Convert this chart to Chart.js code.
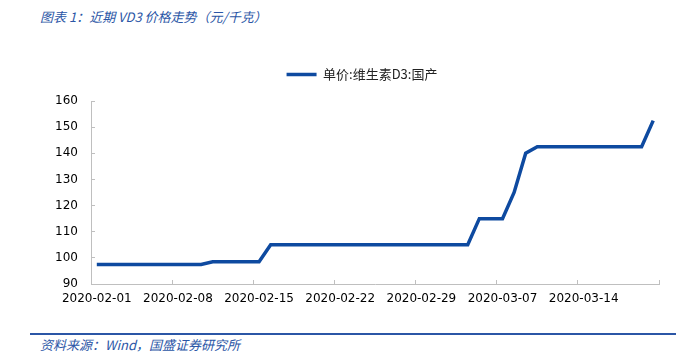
<!DOCTYPE html>
<html>
<head>
<meta charset="utf-8">
<title>近期 VD3 价格走势</title>
<script src="https://cdn.jsdelivr.net/npm/chart.js@4.4.0/dist/chart.umd.min.js"></script>
<style>
  body { margin: 0; background: #fff; }
  #page { position: relative; width: 681px; height: 361px; overflow: hidden; }
  .note {
    position: absolute; left: 40px;
    font-family: "Noto Sans CJK SC", sans-serif; font-style: italic;
    font-size: 13px; color: #2b56a6; white-space: nowrap;
  }
  #title { top: 7px; }
  #rule { position: absolute; left: 30px; width: 646px; top: 333px; border-top: 2px solid #2b56a6; }
  #source { top: 335px; }
  #box { position: absolute; left: 0; top: 50px; width: 681px; height: 268px; }
</style>
</head>
<body>
<div id="page">
  <div id="title" class="note">图表 1：近期 VD3 价格走势（元/千克）</div>
  <div id="box"><canvas id="myCanvas"></canvas></div>
  <div id="rule"></div>
  <div id="source" class="note">资料来源：Wind，国盛证券研究所</div>
</div>

<script>
// daily dates, 2020-02-01 .. 2020-03-20
var dates = [
  '2020-02-01','2020-02-02','2020-02-03','2020-02-04','2020-02-05','2020-02-06','2020-02-07',
  '2020-02-08','2020-02-09','2020-02-10','2020-02-11','2020-02-12','2020-02-13','2020-02-14',
  '2020-02-15','2020-02-16','2020-02-17','2020-02-18','2020-02-19','2020-02-20','2020-02-21',
  '2020-02-22','2020-02-23','2020-02-24','2020-02-25','2020-02-26','2020-02-27','2020-02-28',
  '2020-02-29','2020-03-01','2020-03-02','2020-03-03','2020-03-04','2020-03-05','2020-03-06',
  '2020-03-07','2020-03-08','2020-03-09','2020-03-10','2020-03-11','2020-03-12','2020-03-13',
  '2020-03-14','2020-03-15','2020-03-16','2020-03-17','2020-03-18','2020-03-19','2020-03-20'
];
// 单价:维生素D3:国产 (元/千克)
var price = [
  97.5, 97.5, 97.5, 97.5, 97.5, 97.5, 97.5,
  97.5, 97.5, 97.5, 98.5, 98.5, 98.5, 98.5,
  98.5, 105, 105, 105, 105, 105, 105,
  105, 105, 105, 105, 105, 105, 105,
  105, 105, 105, 105, 105, 115, 115,
  115, 125, 140, 142.5, 142.5, 142.5, 142.5,
  142.5, 142.5, 142.5, 142.5, 142.5, 142.5, 152.5
];
var shownDates = ['2020-02-01','2020-02-08','2020-02-15','2020-02-22','2020-02-29','2020-03-07','2020-03-14'];
var yTicks = { min: 90, max: 160, step: 10 };

var lineBlue = '#0e4aa0';
var axisGrey = '#bfbfbf';
var tickFont = { family: "'DejaVu Sans', sans-serif", size: 12 };

// extra room under the legend, and nudge it right like the original
var legendTweak = {
  id: 'legendTweak',
  beforeInit: function(chart) {
    var fit = chart.legend.fit;
    chart.legend.fit = function() {
      fit.bind(this)();
      this.height += 10;
    };
  },
  afterLayout: function(chart) {
    chart.legend.left += 34;
  }
};

new Chart(document.getElementById('myCanvas'), {
  type: 'line',
  data: {
    labels: dates,
    datasets: [{
      label: '单价:维生素D3:国产',
      data: price,
      borderColor: lineBlue,
      backgroundColor: lineBlue,
      borderWidth: 3.5,
      pointRadius: 0,
      tension: 0,
      fill: false
    }]
  },
  options: {
    responsive: true,
    maintainAspectRatio: false,
    animation: false,
    layout: { padding: { left: 31, right: 22, top: 8, bottom: 0 } },
    plugins: {
      legend: {
        display: true,
        labels: {
          usePointStyle: true,
          pointStyle: 'line',
          pointStyleWidth: 30,
          color: '#222',
          font: { family: "'Noto Sans CJK SC', sans-serif", size: 13 },
          padding: 10
        }
      },
      tooltip: { enabled: false }
    },
    scales: {
      x: {
        offset: true,
        grid: {
          offset: true,
          drawOnChartArea: false,
          tickLength: -4,
          color: function(ctx) {
            return (ctx.index === undefined || ctx.index % 7 === 0) ? axisGrey : 'rgba(0,0,0,0)';
          }
        },
        border: { color: axisGrey, width: 1 },
        ticks: {
          autoSkip: false,
          maxRotation: 0,
          padding: 12,
          color: '#000',
          font: tickFont,
          callback: function(value) {
            var lab = this.getLabelForValue(value);
            return shownDates.indexOf(lab) >= 0 ? lab : '';
          }
        },
        afterFit: function(s) { s.height = 34; }
      },
      y: {
        min: yTicks.min,
        max: yTicks.max,
        grid: { drawOnChartArea: false, tickLength: -4, color: axisGrey },
        border: { color: axisGrey, width: 1 },
        ticks: { stepSize: yTicks.step, padding: 17, color: '#000', font: tickFont },
        afterFit: function(s) { s.width = 60; }
      }
    }
  },
  plugins: [legendTweak]
});
</script>
</body>
</html>
